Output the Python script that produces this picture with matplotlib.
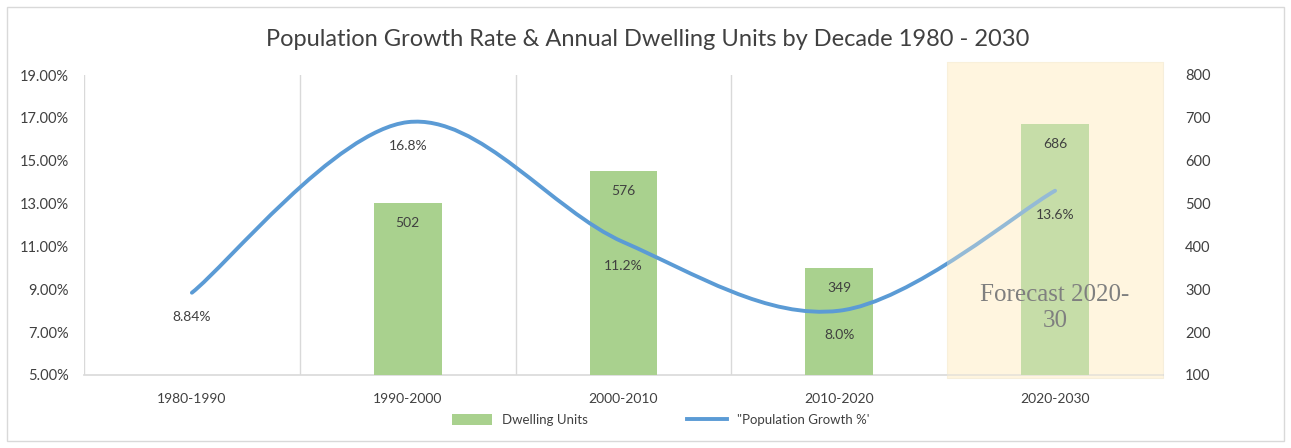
import matplotlib
matplotlib.use("Agg")
import matplotlib.pyplot as plt
from matplotlib.path import Path
from matplotlib.patches import PathPatch, Rectangle, Patch
from matplotlib.lines import Line2D
import numpy as np

categories = ["1980-1990", "1990-2000", "2000-2010", "2010-2020", "2020-2030"]
dwelling_units = [np.nan, 502, 576, 349, 686]
growth_pct = [8.84, 16.8, 11.2, 8.0, 13.6]
growth_labels = ["8.84%", "16.8%", "11.2%", "8.0%", "13.6%"]
left_ticks = [5, 7, 9, 11, 13, 15, 17, 19]
right_ticks = [100, 200, 300, 400, 500, 600, 700, 800]

plt.rcParams['font.family'] = ['Lato', 'DejaVu Sans']
TXT = '#404040'
GREEN = '#a9d18e'
BLUE = '#5b9bd5'
GRID = '#d9d9d9'

fig = plt.figure(figsize=(12.91, 4.48), dpi=100)
fig.patches.append(Rectangle((7/1291, 1 - 441/448), 1277/1291, 434/448, transform=fig.transFigure,
                             fill=False, edgecolor='#d9d9d9', lw=1))

ax = fig.add_axes([84/1291, 1 - 375/448, (1163 - 84)/1291, 300/448])
ax2 = ax.twinx()

x = np.arange(len(categories))
ax.set_xlim(-0.5, 4.5)
ax.set_ylim(5, 19)
ax2.set_ylim(100, 800)

# forecast background
ax.add_patch(Rectangle((3.5, 4.85), 1.0, 14.75, facecolor='#fff6e2', edgecolor='#f6eedb', lw=0.8,
                       zorder=0, clip_on=False))
ax.set_facecolor('none')
ax2.set_facecolor('none')

for b in [-0.5, 0.5, 1.5, 2.5]:
    ax.axvline(b, color=GRID, lw=1, zorder=0.5)

# bars on secondary axis
ax2.bar(x, dwelling_units, width=0.315, color=GREEN, zorder=2, label='Dwelling Units')
for xi, v in zip(x, dwelling_units):
    if not np.isnan(v):
        ax2.annotate(f"{int(v)}", (xi, v), xytext=(0, -10), textcoords='offset points',
                     ha='center', va='top', fontsize=10, color=TXT, zorder=5)

# smooth line (Catmull-Rom style bezier through the data points)
pts = np.column_stack([x, growth_pct]).astype(float)
verts = [tuple(pts[0])]
codes = [Path.MOVETO]
n = len(pts)
for i in range(n - 1):
    p0 = pts[i - 1] if i > 0 else pts[i]
    p1 = pts[i]
    p2 = pts[i + 1]
    p3 = pts[i + 2] if i + 2 < n else pts[i + 1]
    c1 = p1 + (p2 - p0) / 6.0
    c2 = p2 - (p3 - p1) / 6.0
    verts += [tuple(c1), tuple(c2), tuple(p2)]
    codes += [Path.CURVE4] * 3
line_patch = PathPatch(Path(verts, codes), facecolor='none', edgecolor=BLUE, lw=2.8,
                       transform=ax.transData, zorder=3, capstyle='round')
ax2.add_patch(line_patch)

for xi, v, lab in zip(x, growth_pct, growth_labels):
    ax2.annotate(lab, (xi, v), xycoords=ax.transData, xytext=(0, -13), textcoords='offset points',
                 ha='center', va='top', fontsize=10, color=TXT, zorder=5)

# overlay forecast tint
ax2.add_patch(Rectangle((3.5, 4.85), 1.0, 14.75, transform=ax.transData, facecolor='#fff4da',
                        edgecolor='none', alpha=0.35, zorder=4, clip_on=False))

ax2.text(4, 8.75, "Forecast 2020-", transform=ax.transData, ha='center', va='center',
         family=['Liberation Serif'], fontsize=18, color='#7f7f7f', zorder=6)
ax2.text(4, 7.5, "30", transform=ax.transData, ha='center', va='center',
         family=['Liberation Serif'], fontsize=18, color='#7f7f7f', zorder=6)

ax.set_xticks(x)
ax.set_xticklabels(categories, fontsize=10, color=TXT)
ax.set_yticks(left_ticks)
ax.set_yticklabels([f"{t:.2f}%" for t in left_ticks], fontsize=10.5, color=TXT)
ax2.set_yticks(right_ticks)
ax2.set_yticklabels([str(t) for t in right_ticks], fontsize=10.5, color=TXT)
for a in (ax, ax2):
    a.tick_params(length=0)
    for s in ['top', 'left', 'right']:
        a.spines[s].set_visible(False)
ax2.spines['bottom'].set_visible(False)
ax.spines['bottom'].set_color(GRID)
ax.spines['bottom'].set_linewidth(1.2)
ax.tick_params(axis='x', pad=13)
ax.tick_params(axis='y', pad=11)
ax2.tick_params(axis='y', pad=16)

fig.text(648/1291, 1 - 40/448, "Population Growth Rate & Annual Dwelling Units by Decade 1980 - 2030",
         ha='center', va='center', fontsize=17, color=TXT)

handles = [Patch(facecolor=GREEN, edgecolor='none'), Line2D([0], [0], color=BLUE, lw=2.8)]
fig.legend(handles, ['Dwelling Units', '"Population Growth %\''], loc='center',
           bbox_to_anchor=(661/1291, 1 - 420/448), ncol=2, frameon=False, fontsize=9.5,
           handlelength=3, handleheight=0.9, columnspacing=7.5, labelcolor=TXT)

fig.savefig("out.png", dpi=100)
